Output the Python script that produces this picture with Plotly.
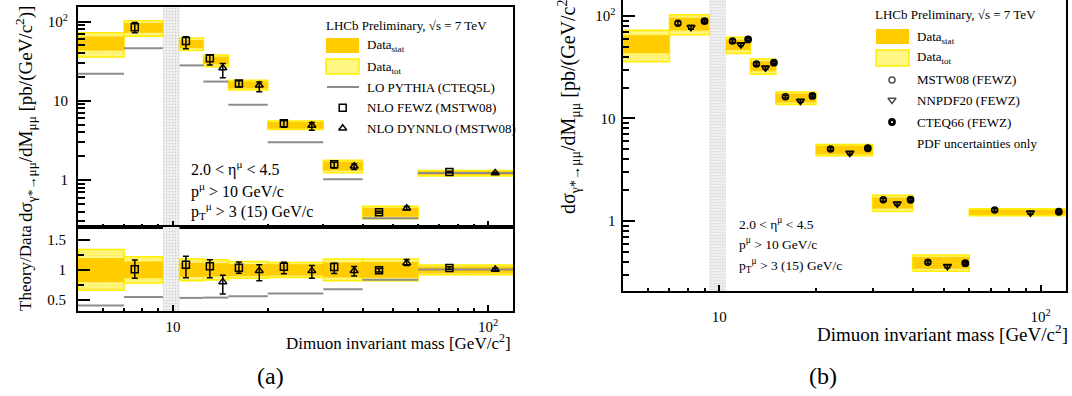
import math
import plotly.graph_objects as go

W, H = 1072, 396

# ---------------- data ----------------
bin_lo = [5, 7, 10.5, 12.5, 15, 20, 30, 40, 60]
bin_hi = [7, 9.3, 12.5, 15, 20, 30, 40, 60, 120]
data_xsec = [54, 84, 52.5, 32.5, 15.9, 4.95, 1.51, 0.394, 1.22]
stat_rel = [0.20, 0.14, 0.12, 0.11, 0.10, 0.095, 0.125, 0.13, 0.055]
tot_rel = [0.34, 0.22, 0.18, 0.17, 0.14, 0.125, 0.18, 0.18, 0.08]
upsilon_window = [9.3, 10.5]

lo_pythia = [22, 46, 28, 17.5, 8.9, 3.0, 1.02, 0.33, 1.23]

fewz_bin = [1, 2, 3, 4, 5, 6, 7, 8]
fewz_mass = [7.57, 11.0, 13.1, 16.2, 22.5, 32.5, 45.1, 75.4]
fewz_mstw = [85, 57, 34.5, 16.5, 5.2, 1.58, 0.392, 1.26]
fewz_err_up = [0.15, 0.13, 0.10, 0.09, 0.075, 0.06, 0.03, 0.02]
fewz_err_dn = [0.15, 0.20, 0.18, 0.09, 0.11, 0.10, 0.03, 0.02]

dynnlo_bin = [3, 4, 5, 6, 7, 8]
dynnlo_mass = [14.4, 18.8, 27.6, 37.6, 55.2, 105.4]
dynnlo_mstw = [26, 15.7, 4.87, 1.49, 0.44, 1.23]
dynnlo_err_up = [0.14, 0.10, 0.09, 0.07, 0.05, 0.02]
dynnlo_err_dn = [0.25, 0.17, 0.125, 0.09, 0.04, 0.02]

mstw_mass = [7.44, 11.0, 13.06, 16.07, 22.2, 32.4, 44.6, 72]
mstw_pdf = [84.9, 56.9, 34, 16.3, 5.04, 1.61, 0.396, 1.28]
nnpdf_mass = [8.17, 11.68, 13.93, 17.9, 25.5, 35.8, 51.3, 93]
nnpdf_pdf = [77.4, 52.7, 31.2, 14.8, 4.6, 1.47, 0.361, 1.2]
cteq_mass = [9.0, 12.3, 14.8, 19.5, 29, 39.4, 58.3, 114]
cteq_pdf = [89, 59, 35, 16.6, 5.12, 1.61, 0.388, 1.23]
pdf_err_rel = [0.04, 0.03, 0.03, 0.03, 0.03, 0.03, 0.03, 0.03]

# ---------------- style ----------------
FONT = "Liberation Serif"
STAT_C = "#FFCC00"
TOT_FILL = "#FFF684"
TOT_LINE = "#FFEE00"
LO_C = "#8C8C8C"


def px(x):
    return x / W


def py(y):
    return 1 - y / H


def rects(lo, hi, ylo, yhi):
    xs, ys = [], []
    for a, b, c, d in zip(lo, hi, ylo, yhi):
        xs += [a, b, b, a, a, None]
        ys += [c, c, d, d, c, None]
    return xs, ys


def hlines(lo, hi, v):
    xs, ys = [], []
    for a, b, c in zip(lo, hi, v):
        xs += [a, b, None]
        ys += [c, c, None]
    return xs, ys


fig = go.Figure()


def add_bands(xa, ya, center, ratio=False, ymin=1e-3, ymax=1e4):
    gx, gy = rects([upsilon_window[0]], [upsilon_window[1]], [ymin], [ymax])
    fig.add_trace(go.Scatter(x=gx, y=gy, mode="lines", fill="toself",
                             line=dict(width=0), fillcolor="#EDEDED",
                             fillpattern=dict(shape=".", fgcolor="#B8B8B8", bgcolor="#F2F2F2",
                                              size=3, solidity=0.35),
                             xaxis=xa, yaxis=ya, hoverinfo="skip", showlegend=False))
    c = [1.0] * len(center) if ratio else center
    tx, ty = rects(bin_lo, bin_hi, [v * (1 - r) for v, r in zip(c, tot_rel)],
                   [v * (1 + r) for v, r in zip(c, tot_rel)])
    fig.add_trace(go.Scatter(x=tx, y=ty, mode="lines", fill="toself",
                             line=dict(width=1.5, color=TOT_LINE), fillcolor=TOT_FILL,
                             fillpattern=dict(shape=".", fgcolor="#FFE000", bgcolor="#FFF890",
                                              size=3, solidity=0.4),
                             xaxis=xa, yaxis=ya, hoverinfo="skip", showlegend=False))
    sx, sy = rects(bin_lo, bin_hi, [v * (1 - r) for v, r in zip(c, stat_rel)],
                   [v * (1 + r) for v, r in zip(c, stat_rel)])
    fig.add_trace(go.Scatter(x=sx, y=sy, mode="lines", fill="toself",
                             line=dict(width=0), fillcolor=STAT_C,
                             xaxis=xa, yaxis=ya, hoverinfo="skip", showlegend=False))


def add_points(xa, ya, mass, vals, up, dn, symbol, size=7, lw=1.5, ratio_bins=None):
    if ratio_bins is not None:
        vals = [v / data_xsec[b] for v, b in zip(vals, ratio_bins)]
    eu = [v * u for v, u in zip(vals, up)]
    ed = [v * d for v, d in zip(vals, dn)]
    fig.add_trace(go.Scatter(x=mass, y=vals, mode="markers",
                             marker=dict(symbol=symbol, size=size, color="black",
                                         line=dict(width=lw, color="black")),
                             error_y=dict(type="data", symmetric=False, array=eu, arrayminus=ed,
                                          color="black", thickness=1.5, width=3),
                             xaxis=xa, yaxis=ya, cliponaxis=False, showlegend=False))


# ----- left top panel -----
add_bands("x", "y", data_xsec)
lx, ly = hlines(bin_lo, bin_hi, lo_pythia)
fig.add_trace(go.Scatter(x=lx, y=ly, mode="lines", line=dict(color=LO_C, width=2),
                         xaxis="x", yaxis="y", showlegend=False))
add_points("x", "y", fewz_mass, fewz_mstw, fewz_err_up, fewz_err_dn, "square-open")
add_points("x", "y", dynnlo_mass, dynnlo_mstw, dynnlo_err_up, dynnlo_err_dn, "triangle-up-open")

# ----- left ratio panel -----
add_bands("x2", "y2", data_xsec, ratio=True)
rx, ry = hlines(bin_lo, bin_hi, [l / d for l, d in zip(lo_pythia, data_xsec)])
fig.add_trace(go.Scatter(x=rx, y=ry, mode="lines", line=dict(color=LO_C, width=2),
                         xaxis="x2", yaxis="y2", showlegend=False))
add_points("x2", "y2", fewz_mass, fewz_mstw, fewz_err_up, fewz_err_dn, "square-open",
           ratio_bins=fewz_bin)
add_points("x2", "y2", dynnlo_mass, dynnlo_mstw, dynnlo_err_up, dynnlo_err_dn,
           "triangle-up-open", ratio_bins=dynnlo_bin)

# ----- right panel -----
add_bands("x3", "y3", data_xsec)
add_points("x3", "y3", mstw_mass, mstw_pdf, pdf_err_rel, pdf_err_rel, "circle-open", size=6)
add_points("x3", "y3", nnpdf_mass, nnpdf_pdf, pdf_err_rel, pdf_err_rel, "triangle-down-open", size=7)
add_points("x3", "y3", cteq_mass, cteq_pdf, pdf_err_rel, pdf_err_rel, "circle-open", size=5, lw=2.8)

# ----- legend glyphs (overlay axis in pixel units) -----
fig.add_trace(go.Scatter(x=[342.7, 342.7], y=[107.7, 128.3], mode="markers",
                         marker=dict(symbol=["square-open", "triangle-up-open"], size=7,
                                     color="black", line=dict(width=1.5, color="black")),
                         xaxis="x4", yaxis="y4", showlegend=False, hoverinfo="skip"))
fig.add_trace(go.Scatter(x=[892, 892], y=[80, 100], mode="markers",
                         marker=dict(symbol=["circle-open", "triangle-down-open"], size=[6, 7],
                                     color="black", line=dict(width=1.5, color="black")),
                         xaxis="x4", yaxis="y4", showlegend=False, hoverinfo="skip"))
fig.add_trace(go.Scatter(x=[892], y=[122], mode="markers",
                         marker=dict(symbol="circle-open", size=5, color="black",
                                     line=dict(width=2.8, color="black")),
                         xaxis="x4", yaxis="y4", showlegend=False, hoverinfo="skip"))

# ---------------- axes ----------------
tickfont = dict(family=FONT, size=15, color="black")
xminor = [6, 7, 8, 9, 20, 30, 40, 50, 60, 70, 80, 90]
yminor = [0.3, 0.4, 0.5, 0.6, 0.7, 0.8, 0.9, 2, 3, 4, 5, 6, 7, 8, 9,
          20, 30, 40, 50, 60, 70, 80, 90]
xr = [math.log10(5), math.log10(120)]


def xax(domain, anchor, labels, mirror=True, standoff=0):
    return dict(domain=domain, anchor=anchor, type="log", range=xr,
                showgrid=False, zeroline=False, showline=True, linewidth=2,
                linecolor="black", mirror=mirror, ticks="inside", ticklen=6,
                tickwidth=1.5, tickcolor="black",
                tickvals=[10, 100], ticktext=["10", "10<sup>2</sup>"],
                showticklabels=labels, tickfont=tickfont, ticklabelstandoff=standoff,
                minor=dict(tickmode="array", tickvals=xminor, ticks="inside",
                           ticklen=3.5, tickwidth=1.5, tickcolor="black"))


def ylogax(domain, anchor, rng, majlen=13, minlen=6.5, standoff=0):
    return dict(domain=domain, anchor=anchor, type="log",
                range=[math.log10(rng[0]), math.log10(rng[1])],
                showgrid=False, zeroline=False, showline=True, linewidth=2,
                linecolor="black", mirror=True, ticks="inside", ticklen=majlen,
                tickwidth=1.5, tickcolor="black",
                tickvals=[1, 10, 100], ticktext=["1", "10", "10<sup>2</sup>"],
                tickfont=tickfont, ticklabelstandoff=standoff,
                minor=dict(tickmode="array", tickvals=yminor, ticks="inside",
                           ticklen=minlen, tickwidth=1.5, tickcolor="black"))


fig.update_layout(
    width=W, height=H, margin=dict(l=0, r=0, t=0, b=0),
    paper_bgcolor="white", plot_bgcolor="rgba(0,0,0,0)",
    showlegend=False,
    xaxis=xax([px(78), px(513)], "y", False),
    yaxis=ylogax([py(227), py(7)], "x", [0.255, 153], standoff=5),
    xaxis2=xax([px(78), px(513)], "y2", True, standoff=1),
    yaxis2=dict(domain=[py(311), py(227)], anchor="x2", range=[0.315, 1.715],
                showgrid=False, zeroline=False, showline=True, linewidth=2,
                linecolor="black", mirror=True, ticks="inside", ticklen=12,
                tickwidth=1.5, tickcolor="black", tickvals=[0.5, 1, 1.5],
                ticktext=["0.5", "1", "1.5"], tickfont=tickfont, ticklabelstandoff=7,
                minor=dict(tickmode="array", tickvals=[0.75, 1.25], ticks="inside",
                           ticklen=6, tickwidth=1.5, tickcolor="black")),
    xaxis3=xax([px(622.5), px(1066)], "y3", True, mirror=False, standoff=11),
    yaxis3=ylogax([py(291), 1.0], "x3", [0.2075, 143], majlen=12, minlen=6, standoff=2),
    xaxis4=dict(domain=[0, 1], range=[0, W], visible=False, anchor="y4"),
    yaxis4=dict(domain=[0, 1], range=[H, 0], visible=False, anchor="x4"),
)

# ---------------- legend boxes (layout shapes) ----------------
shapes = []


def box(x0, y0, x1, y1, fill, line=None):
    shapes.append(dict(type="rect", xref="paper", yref="paper",
                       x0=px(x0), x1=px(x1), y0=py(y1), y1=py(y0), fillcolor=fill,
                       line=dict(width=1.5 if line else 0, color=line or fill)))


box(326, 38, 359, 53, STAT_C)
box(326, 59, 359, 74, TOT_FILL, TOT_LINE)
shapes.append(dict(type="line", xref="paper", yref="paper", x0=px(327), x1=px(359),
                   y0=py(87), y1=py(87), line=dict(color=LO_C, width=2)))
box(876, 29, 909, 44, STAT_C)
box(876, 50, 909, 66, TOT_FILL, TOT_LINE)
fig.update_layout(shapes=shapes)

# ---------------- text ----------------
ann = []


def text(t, x, y, size=13, xanchor="left", yanchor="middle", angle=0):
    ann.append(dict(text=t, x=px(x), y=py(y), xref="paper", yref="paper",
                    xanchor=xanchor, yanchor=yanchor, showarrow=False, textangle=angle,
                    font=dict(family=FONT, size=size, color="black")))


# left legend
text("LHCb Preliminary, √s = 7 TeV", 324, 25)
text("Data<sub>stat</sub>", 365, 46)
text("Data<sub>tot</sub>", 365, 67)
text("LO PYTHIA (CTEQ5L)", 365, 87)
text("NLO FEWZ (MSTW08)", 365, 107.5)
text("NLO DYNNLO (MSTW08)", 365, 128.5)
text("2.0 &lt; η<sup>μ</sup> &lt; 4.5", 189, 169, size=16)
text("p<sup>μ</sup> &gt; 10 GeV/c", 189, 190, size=16)
text("p<sub>T</sub><sup>μ</sup> &gt; 3 (15) GeV/c", 189, 211, size=16)

# right legend
text("LHCb Preliminary, √s = 7 TeV", 873, 15)
text("Data<sub>stat</sub>", 915, 37)
text("Data<sub>tot</sub>", 915, 58)
text("MSTW08 (FEWZ)", 915, 80)
text("NNPDF20 (FEWZ)", 915, 100)
text("CTEQ66 (FEWZ)", 915, 122)
text("PDF uncertainties only", 915, 143)
text("2.0 &lt; η<sup>μ</sup> &lt; 4.5", 737, 223, size=13.5)
text("p<sup>μ</sup> &gt; 10 GeV/c", 737, 243, size=13.5)
text("p<sub>T</sub><sup>μ</sup> &gt; 3 (15) GeV/c", 737, 265, size=13.5)

# axis titles
text("Dimuon invariant mass [GeV/c<sup>2</sup>]", 513, 342, size=17, xanchor="right")
text("Dimuon invariant mass [GeV/c<sup>2</sup>]", 1070, 333, size=19, xanchor="right")
text("Theory/Data", 25, 313, size=17, xanchor="center", yanchor="bottom", angle=-90)
text("dσ<sub>γ*→μμ</sub>/dM<sub>μμ</sub> [pb/(GeV/c<sup>2</sup>)]", 25, 224, size=19,
     xanchor="center", yanchor="bottom", angle=-90)
text("dσ<sub>γ*→μμ</sub>/dM<sub>μμ</sub> [pb/(GeV/c<sup>2</sup>)]", 569, 216, size=20,
     xanchor="center", yanchor="bottom", angle=-90)

# panel labels
text("(a)", 270, 376, size=24, xanchor="center")
text("(b)", 823, 376, size=24, xanchor="center")

fig.update_layout(annotations=ann)

fig.write_html("out.html", config={"displayModeBar": False},
               post_script="document.body.style.margin='0px';")
